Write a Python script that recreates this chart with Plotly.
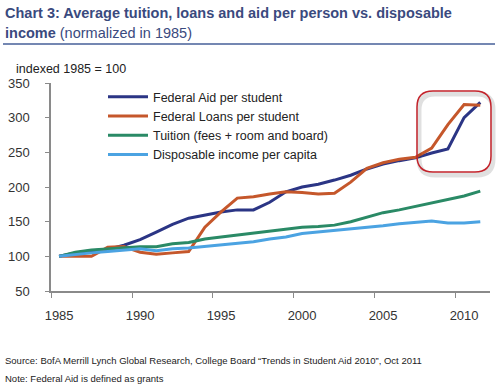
import plotly.graph_objects as go

years = [str(y) for y in range(1985, 2012)]
federal_aid = [100, 105, 108, 110, 116, 124, 135, 146, 155, 160, 164, 167, 167, 178, 193,
               200, 204, 210, 217, 226, 233, 238, 242, 249, 255, 300, 322]
federal_loans = [100, 100, 100, 113, 114, 106, 103, 105, 107, 142, 164, 184, 186, 190, 193,
                 192, 190, 191, 207, 227, 235, 240, 243, 256, 290, 319, 318]
tuition = [100, 106, 109, 111, 113, 114, 114, 118, 120, 125, 128, 131, 134, 137, 140,
           142, 143, 145, 150, 157, 163, 167, 172, 177, 182, 187, 194]
income = [100, 103, 105, 107, 109, 111, 108, 111, 112, 114, 116, 118, 121, 125, 128,
          133, 135, 137, 139, 142, 144, 147, 149, 151, 148, 148, 150]

series_names = ["Federal Aid per student", "Federal Loans per student",
                "Tuition (fees + room and board)", "Disposable income per capita"]
series_vals = [federal_aid, federal_loans, tuition, income]
colors = ["#2b3585", "#c5572b", "#2a8a66", "#4ba3e2"]

FONT = "Liberation Sans, Arial, sans-serif"

fig = go.Figure()
for name, vals, c in zip(series_names, series_vals, colors):
    fig.add_trace(go.Scatter(x=years, y=vals, name=name, mode="lines",
                             line=dict(color=c, width=3)))

L, R, T, B = 51, 10, 83, 96
PW, PH = 500 - L - R, 387 - T - B


def px(p):
    return (p - L) / PW


def py(p):
    return (387 - B - p) / PH


fig.update_layout(
    width=500, height=387,
    margin=dict(l=L, r=R, t=T, b=B),
    paper_bgcolor="white", plot_bgcolor="white",
    font=dict(family=FONT, size=13, color="#333"),
    showlegend=True,
    legend=dict(x=px(103), y=py(82), xanchor="left", yanchor="top",
                bgcolor="rgba(0,0,0,0)", itemwidth=40,
                font=dict(family=FONT, size=12.5, color="#222"),
                tracegroupgap=0),
)
fig.update_xaxes(type="category", range=[-0.5, 26.6], dtick=5, tickson="boundaries",
                 tickangle=0, automargin=False,
                 showgrid=False, zeroline=False, showline=True, linecolor="#8a8a8a",
                 linewidth=1.5, ticks="outside", ticklen=5, tickcolor="#8a8a8a",
                 ticklabelstandoff=12, tickfont=dict(size=13, color="#333"))
fig.update_yaxes(range=[50, 350], dtick=50, showgrid=False, zeroline=False,
                 automargin=False,
                 showline=True, linecolor="#8a8a8a", linewidth=1.5,
                 ticks="outside", ticklen=4, tickcolor="#8a8a8a",
                 ticklabelstandoff=13, tickfont=dict(size=13, color="#333"))

# Title (two lines)
fig.add_annotation(xref="paper", yref="paper", x=px(3), y=py(13),
                   xanchor="left", yanchor="middle", showarrow=False,
                   text="<b>Chart 3: Average tuition, loans and aid per person vs. disposable</b>",
                   font=dict(family=FONT, size=14.5, color="#3a4a7e"))
fig.add_annotation(xref="paper", yref="paper", x=px(3), y=py(33),
                   xanchor="left", yanchor="middle", showarrow=False,
                   text="<b>income</b> (normalized in 1985)",
                   font=dict(family=FONT, size=14.5, color="#3a4a7e"))
# Title underline
fig.add_shape(type="line", xref="paper", yref="paper",
              x0=px(3), x1=px(495), y0=py(44), y1=py(44),
              line=dict(color="#7487b2", width=2))
# Axis unit label
fig.add_annotation(xref="paper", yref="paper", x=px(14), y=py(69),
                   xanchor="left", yanchor="middle", showarrow=False,
                   text="indexed 1985 = 100", font=dict(family=FONT, size=12.5, color="#222"))
# Footnotes
fig.add_annotation(xref="paper", yref="paper", x=px(3), y=py(360),
                   xanchor="left", yanchor="middle", showarrow=False,
                   text="Source: BofA Merrill Lynch Global Research, College Board \u201cTrends in Student Aid 2010\u201d, Oct 2011",
                   font=dict(family=FONT, size=9.5, color="#222"))
fig.add_annotation(xref="paper", yref="paper", x=px(3), y=py(378),
                   xanchor="left", yanchor="middle", showarrow=False,
                   text="Note: Federal Aid is defined as grants",
                   font=dict(family=FONT, size=9.5, color="#222"))


def rounded(x0, y0, x1, y1, r, dx=0, dy=0):
    def X(p):
        return px(p + dx)

    def Y(p):
        return py(p + dy)
    return (f"M {X(x0 + r)},{Y(y0)} L {X(x1 - r)},{Y(y0)} "
            f"Q {X(x1)},{Y(y0)} {X(x1)},{Y(y0 + r)} "
            f"L {X(x1)},{Y(y1 - r)} Q {X(x1)},{Y(y1)} {X(x1 - r)},{Y(y1)} "
            f"L {X(x0 + r)},{Y(y1)} Q {X(x0)},{Y(y1)} {X(x0)},{Y(y1 - r)} "
            f"L {X(x0)},{Y(y0 + r)} Q {X(x0)},{Y(y0)} {X(x0 + r)},{Y(y0)} Z")


# Highlight box with soft shadow
fig.add_shape(type="path", xref="paper", yref="paper",
              path=rounded(417, 91, 491, 172, 16, 2, 3),
              line=dict(color="rgba(0,0,0,0.12)", width=5))
fig.add_shape(type="path", xref="paper", yref="paper",
              path=rounded(417, 91, 491, 172, 16),
              line=dict(color="#c3232b", width=1.5))

fig.write_html("out.html", config={"displayModeBar": False},
               post_script="document.body.style.margin='0';document.body.style.overflow='hidden';")
